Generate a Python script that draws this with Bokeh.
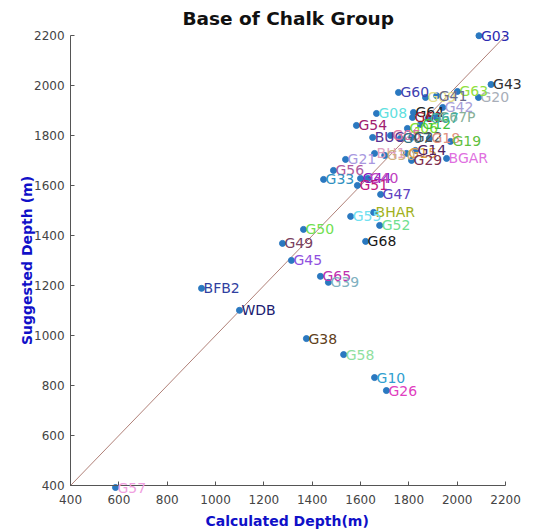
from bokeh.plotting import figure
from bokeh.models import ColumnDataSource, Range1d, FixedTicker, Label, Title
from bokeh.embed import file_html
from bokeh.resources import INLINE

# Wells: calculated vs suggested depth of the Base of Chalk Group (m)
names = ["G03", "G43", "G60", "G20", "G63", "G09", "G42", "G41", "G64", "G61", "G08", "G54",
         "G67P", "G06", "G12", "G67", "BUC", "G05", "G07", "G22", "G18", "G19",
         "BH1", "G30", "G15", "G14", "G29", "BGAR", "G21", "G56", "G33", "G44", "G40",
         "G51", "G47", "BHAR", "G55", "G52", "G68", "G50", "G49", "G45", "G65", "G39",
         "BFB2", "WDB", "G38", "G58", "G10", "G26", "G57"]
calc_depth = [2090, 2140, 1757, 2088, 2001, 1869, 1940, 1915, 1819, 1815, 1666, 1583,
              1914, 1794, 1848, 1880, 1650, 1724, 1765, 1812, 1885, 1972,
              1658, 1700, 1790, 1827, 1811, 1956, 1538, 1488, 1447, 1600, 1630,
              1587, 1683, 1654, 1559, 1679, 1621, 1364, 1277, 1314, 1434, 1467,
              942, 1099, 1376, 1530, 1658, 1707, 586]
suggested_depth = [2200, 2005, 1973, 1953, 1977, 1953, 1913, 1960, 1893, 1873, 1889, 1841,
                   1873, 1829, 1845, 1869, 1793, 1801, 1789, 1793, 1789, 1777,
                   1729, 1721, 1729, 1741, 1701, 1709, 1705, 1661, 1625, 1629, 1629,
                   1601, 1565, 1493, 1477, 1441, 1377, 1425, 1369, 1301, 1237, 1213,
                   1189, 1101, 988, 924, 832, 780, 392]
label_colors = ["#2b2bb0", "#303030", "#4040b0", "#a8aeb8", "#90e040", "#e4e088", "#a8a0d8", "#6a6a8a",
                "#202020", "#a01830", "#60e0e0", "#a02070",
                "#88b098", "#80e030", "#40c040", "#40b0a0", "#5a3090", "#e070a0", "#307080",
                "#505050", "#e09080", "#60c040",
                "#e0a0c0", "#d0b080", "#e0a040", "#502060", "#803050", "#e070e0", "#a898e0",
                "#b05aa0", "#3090c0", "#8020c0", "#c040c0",
                "#c01880", "#6040c0", "#a0b020", "#70e0f0", "#70e090", "#181818", "#70e050",
                "#7a4060", "#9050e0", "#c030b0", "#80b0c0",
                "#3040a0", "#202070", "#604020", "#90e0a0", "#30a0d0", "#e040c0", "#f0a0e0"]

axis_min, axis_max = 400, 2200
line_x = [400, 2200]
line_y = [400, 2200]
ticks = [400, 600, 800, 1000, 1200, 1400, 1600, 1800, 2000, 2200]

src = ColumnDataSource(dict(x=calc_depth, y=suggested_depth, name=names, color=label_colors))

# the frame is larger than the axes so that well labels and tick labels are not clipped
p = figure(width=542, height=530, output_backend="svg", toolbar_location=None,
           x_range=Range1d(168, 2324), y_range=Range1d(300, 2229),
           min_border_left=14, min_border_right=7, min_border_top=28, min_border_bottom=20)
p.title.text = "Base of Chalk Group"
p.title.align = "left"
p.title.offset = 168
p.title.text_font = "DejaVu Sans"
p.title.text_font_size = "18.5px"
p.title.text_font_style = "bold"
p.title.text_color = "#111111"
p.title.standoff = 0

p.grid.visible = False
p.outline_line_color = None
p.background_fill_color = "white"
p.border_fill_color = "white"

for ax in (p.xaxis[0], p.yaxis[0]):
    ax.ticker = FixedTicker(ticks=ticks)
    ax.bounds = (axis_min, axis_max)
    ax.fixed_location = axis_min
    ax.major_tick_in = 4
    ax.major_tick_out = 0
    ax.minor_tick_line_color = None
    ax.axis_line_color = "#555555"
    ax.major_tick_line_color = "#555555"
    ax.major_label_text_font = "DejaVu Sans"
    ax.major_label_text_font_size = "12px"
    ax.major_label_text_color = "#444444"
    ax.axis_label_text_font = "DejaVu Sans"
    ax.axis_label_text_font_size = "14px"
    ax.axis_label_text_font_style = "bold"
    ax.axis_label_text_color = "#1010c8"

p.xaxis.major_label_standoff = 9
p.yaxis.axis_label = "Suggested Depth (m)"
p.yaxis.major_label_standoff = 6
p.yaxis.axis_label_standoff = -4

p.add_layout(Title(text="Calculated Depth(m)", align="left", offset=191, standoff=0,
                   text_font="DejaVu Sans", text_font_size="14px", text_font_style="bold",
                   text_color="#1010c8"), "below")

p.line(line_x, line_y, line_color="#b08078", line_width=1)
p.scatter("x", "y", source=src, size=6, fill_color="#2a78c0", line_color="#2a78c0")
for xv, yv, nm, col in zip(calc_depth, suggested_depth, names, label_colors):
    p.add_layout(Label(x=xv, y=yv, text=nm, text_color=col, x_offset=2,
                       text_baseline="middle", text_align="left", text_font="DejaVu Sans",
                       text_font_size="14px"))

open("out.html", "w").write(file_html(p, INLINE))
